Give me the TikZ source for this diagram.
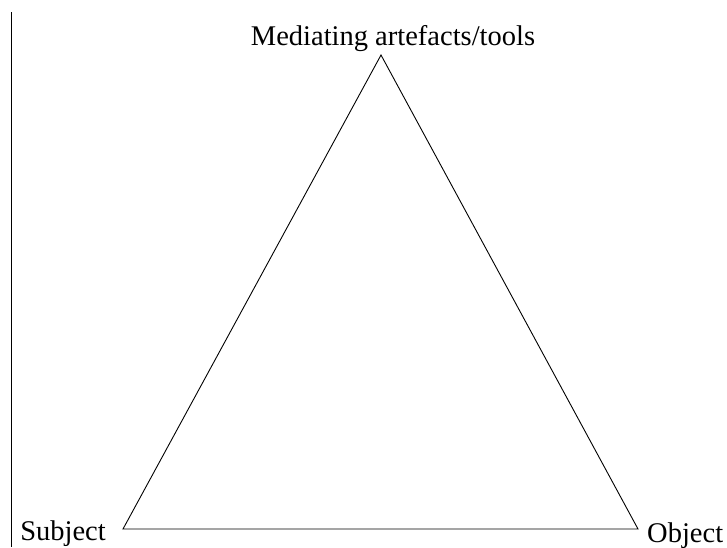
\documentclass[tikz,border=0pt]{standalone}
\usepackage{fontspec}
\setmainfont{Liberation Serif}
\usepackage{tikz}
\tikzstyle{label} = [inner sep=0pt, font=\fontsize{28.5}{34}\selectfont]
\tikzstyle{edge} = [line width=0.9pt]

\begin{document}
\begin{tikzpicture}[x=1pt, y=-1pt]
        \useasboundingbox (0,0) rectangle (727,547);
        % Corners
        \coordinate (tools) at (381,55);
        \coordinate (subject) at (123,529);
        \coordinate (object) at (638,529);
        \coordinate (rulertop) at (11,12);
        \coordinate (rulerbot) at (11,547);

        % Labels
        \node (toolsLbl) [label, anchor=base] at (393,45) {Mediating artefacts/tools};
        \node (subjectLbl) [label, anchor=base east] at (106,540) {Subject};
        \node (objectLbl) [label, anchor=base west] at (647,542) {Object};

        % Lines
        \draw[edge] (tools) -- (object) -- (subject) -- cycle;
        \draw[edge] (rulertop) -- (rulerbot);
    \end{tikzpicture}
\end{document}
